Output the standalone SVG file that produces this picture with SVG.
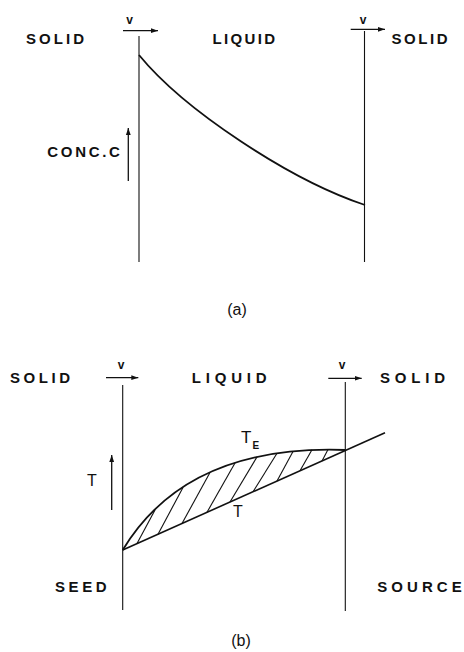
<svg xmlns="http://www.w3.org/2000/svg" width="464" height="652" viewBox="0 0 464 652">
<style>
.lbl{font-family:"Liberation Sans",Arial,sans-serif;font-size:15px;font-weight:bold;fill:#111}
.v{font-family:"Liberation Sans",Arial,sans-serif;font-size:12px;font-weight:bold;fill:#111}
.cap{font-family:"Liberation Sans",Arial,sans-serif;font-size:16px;fill:#111}
.sym{font-family:"Liberation Sans",Arial,sans-serif;font-size:16px;fill:#111}
.sub{font-family:"Liberation Sans",Arial,sans-serif;font-size:10px;font-weight:bold;fill:#111}
.thin{stroke:#111;stroke-width:1.1;fill:none}
.thick{stroke:#111;stroke-width:1.8;fill:none}
.hatch{stroke:#111;stroke-width:1.1;fill:none}
.arr{stroke:#111;stroke-width:1.3;fill:none;marker-end:url(#ah)}
</style>
<defs>
<marker id="ah" markerUnits="userSpaceOnUse" markerWidth="8" markerHeight="6" refX="7" refY="3" orient="auto">
<path d="M0,0.6 L7,3 L0,5.4 z" fill="#111"/>
</marker>
</defs>
<rect width="464" height="652" fill="#fff"/>

<g id="panel-a">
<g id="a-labels">
<text class="lbl" x="26" y="43.5" textLength="58" lengthAdjust="spacing">SOLID</text>
<text class="lbl" x="212.5" y="43.5" textLength="62.5" lengthAdjust="spacing">LIQUID</text>
<text class="lbl" x="391.5" y="43.5" textLength="56" lengthAdjust="spacing">SOLID</text>
<text class="v" x="129.5" y="23.5" text-anchor="middle">v</text>
<text class="v" x="363" y="23.5" text-anchor="middle">v</text>
<text class="lbl" x="47.3" y="157.3" textLength="72.5" lengthAdjust="spacing">CONC.C</text>
<text class="cap" x="237" y="314.5" text-anchor="middle">(a)</text>
</g>
<g id="a-connectors">
<line class="thin" x1="139" y1="36" x2="139" y2="262"/>
<line class="thin" x1="364.5" y1="31" x2="364.5" y2="262"/>
<line class="arr" x1="123" y1="30.7" x2="158" y2="30.7"/>
<line class="arr" x1="350.7" y1="29.3" x2="385" y2="29.3"/>
<line class="arr" x1="128.3" y1="181" x2="128.3" y2="128"/>
<path id="conc-curve" class="thick" d="M139,55 C184,110 290,180 365,205"/>
</g>
</g>

<g id="panel-b">
<g id="b-labels">
<text class="lbl" x="10" y="383.3" textLength="60" lengthAdjust="spacing">SOLID</text>
<text class="lbl" x="191.7" y="383.3" textLength="75" lengthAdjust="spacing">LIQUID</text>
<text class="lbl" x="380" y="383.3" textLength="65" lengthAdjust="spacing">SOLID</text>
<text class="v" x="121" y="368.5" text-anchor="middle">v</text>
<text class="v" x="342" y="368.5" text-anchor="middle">v</text>
<text class="lbl" x="55" y="591.7" textLength="51.7" lengthAdjust="spacing">SEED</text>
<text class="lbl" x="377.3" y="591.7" textLength="84.4" lengthAdjust="spacing">SOURCE</text>
<text class="sym" x="241" y="443.3" style="font-size:17px">T</text>
<text class="sub" x="252.5" y="448.5">E</text>
<text class="sym" x="87" y="485.7">T</text>
<text class="sym" x="233" y="516.7">T</text>
<text class="cap" x="241" y="645.5" text-anchor="middle">(b)</text>
</g>
<g id="b-connectors">
<line class="thin" x1="122.7" y1="385" x2="122.7" y2="610"/>
<line class="thin" x1="345.3" y1="382" x2="345.3" y2="611"/>
<line class="arr" x1="106" y1="377.7" x2="138.3" y2="377.7"/>
<line class="arr" x1="328.3" y1="378.3" x2="361.7" y2="378.3"/>
<line class="arr" x1="111.7" y1="510" x2="111.7" y2="455"/>
<line id="t-line" class="thick" x1="122.7" y1="550" x2="385" y2="432.7" style="stroke-width:1.6"/>
<path id="te-curve" class="thick" d="M122.7,550 C163,483.2 235,446 345.3,450"/>
<g id="hatching">
<line class="hatch" x1="137" y1="543.6" x2="155" y2="509.9"/>
<line class="hatch" x1="158" y1="534.2" x2="183" y2="487.5"/>
<line class="hatch" x1="182" y1="523.5" x2="210" y2="472.5"/>
<line class="hatch" x1="207" y1="512.3" x2="235" y2="462.9"/>
<line class="hatch" x1="230" y1="502" x2="257" y2="456.9"/>
<line class="hatch" x1="253" y1="491.8" x2="277" y2="453.3"/>
<line class="hatch" x1="277" y1="481" x2="293" y2="451.4"/>
<line class="hatch" x1="300" y1="470.7" x2="312" y2="449.7"/>
<line class="hatch" x1="322" y1="460.9" x2="328" y2="449.6"/>
</g>
</g>
</g>
</svg>
